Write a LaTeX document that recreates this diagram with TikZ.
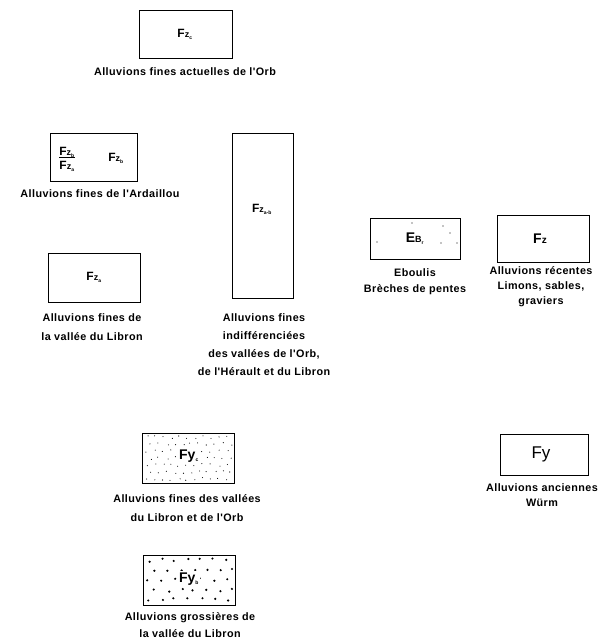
\documentclass[tikz,border=0pt]{standalone}
\usepackage{fontspec}
\setmainfont{Liberation Sans}
\newfontfamily\labfont[LetterSpace=4]{Liberation Sans}
\begin{document}
\begin{tikzpicture}[x=1pt,y=-1pt,
  box/.style={draw,line width=1pt},
  lab/.style={font=\labfont\fontsize{10.8}{#1}\selectfont\bfseries,align=center,inner sep=0pt,anchor=north},
  lab/.default=16,
  sym/.style={font=\fontsize{12}{14}\selectfont\bfseries,inner sep=0pt},
  dot/.style={fill=black}]
\useasboundingbox (0,0) rectangle (598,643);
% Fzc
\draw[box] (139,10) rectangle (232,58);
\node[sym] (fzc) at (185,34) {F{\small z}\textsubscript{\tiny c}};
\node[lab] (lfzc) at (185,67) {Alluvions fines actuelles de l'Orb};
% Ardaillou
\draw[box] (50,133) rectangle (137,181);
\node[sym] (fracn) at (67,152) {F{\small z}\textsubscript{\tiny b}};
\node[sym] (fracd) at (67,166) {F{\small z}\textsubscript{\tiny a}};
\draw[line width=0.9pt] (fracn.south west) -- (fracn.south east);
\node[sym] (fzb) at (116,158) {F{\small z}\textsubscript{\tiny b}};
\node[lab] (lfzb) at (100,189) {Alluvions fines de l'Ardaillou};
% Fza
\draw[box] (48,253) rectangle (140,302);
\node[sym] (fza) at (94,277) {F{\small z}\textsubscript{\tiny a}};
\node[lab=19] (lfza) at (92,313) {Alluvions fines de\\la vallée du Libron};
% Fza-b
\draw[box] (232,133) rectangle (293,298);
\node[sym] (fzab) at (262,209) {F{\small z}\textsubscript{\tiny a-b}};
\node[lab=18] (lfzab) at (264,313) {Alluvions fines\\indifférenciées\\des vallées de l'Orb,\\de l'Hérault et du Libron};
% EBr
\draw[box] (370,218) rectangle (460,259);
\node[sym] (ebr) at (415,239) {\fontsize{14}{16}\selectfont E{\small B}\textsubscript{\tiny r}};
\foreach \p in {(377,242),(412,223),(443,226),(450,233),(441,243),(457,243)} \fill[dot] \p circle (0.7);
\node[lab] (lebr) at (415,268) {Eboulis\\Brèches de pentes};
% Fz
\draw[box] (497,215) rectangle (589,262);
\node[sym] (fz) at (540,239) {\fontsize{14}{16}\selectfont F{\normalsize z}};
\node[lab=15] (lfz) at (541,266) {Alluvions récentes\\Limons, sables,\\graviers};
% Fyc
\draw[box] (142,433) rectangle (234,483);
\pgfmathsetseed{7}
\foreach \i in {0,...,10} \foreach \j in {0,...,6} {
  \pgfmathsetmacro{\xx}{147+\i*8+(\j-2*int(\j/2))*4+3*rnd-1.5}
  \pgfmathsetmacro{\yy}{437+\j*7+3*rnd-1.5}
  \fill[dot] (\xx,\yy) circle (0.55);
}
\node[sym,fill=white,inner sep=1.5pt] (fyc) at (189,456) {\fontsize{14}{16}\selectfont Fy\textsubscript{\tiny c}};
\node[lab=19] (lfyc) at (187,494) {Alluvions fines des vallées\\du Libron et de l'Orb};
% Fyb
\draw[box] (143,555) rectangle (235,605);
\pgfmathsetseed{11}
\foreach \i in {0,...,6} \foreach \j in {0,...,4} {
  \pgfmathsetmacro{\xx}{149+\i*13+(\j-2*int(\j/2))*6+4*rnd-2}
  \pgfmathsetmacro{\yy}{560+\j*10+4*rnd-2}
  \fill[dot] (\xx,\yy) circle (1.2);
}
\node[sym,fill=white,inner sep=1.5pt] (fyb) at (189,579) {\fontsize{14}{16}\selectfont Fy\textsubscript{\tiny b}};
\node[lab=17] (lfyb) at (190,612) {Alluvions grossières de\\la vallée du Libron};
% Fy
\draw[box] (500,434) rectangle (588,475);
\node[sym] (fy) at (541,454) {\fontsize{17}{19}\selectfont\mdseries Fy};
\node[lab=15] (lfy) at (542,483) {Alluvions anciennes\\Würm};
\end{tikzpicture}
\end{document}
